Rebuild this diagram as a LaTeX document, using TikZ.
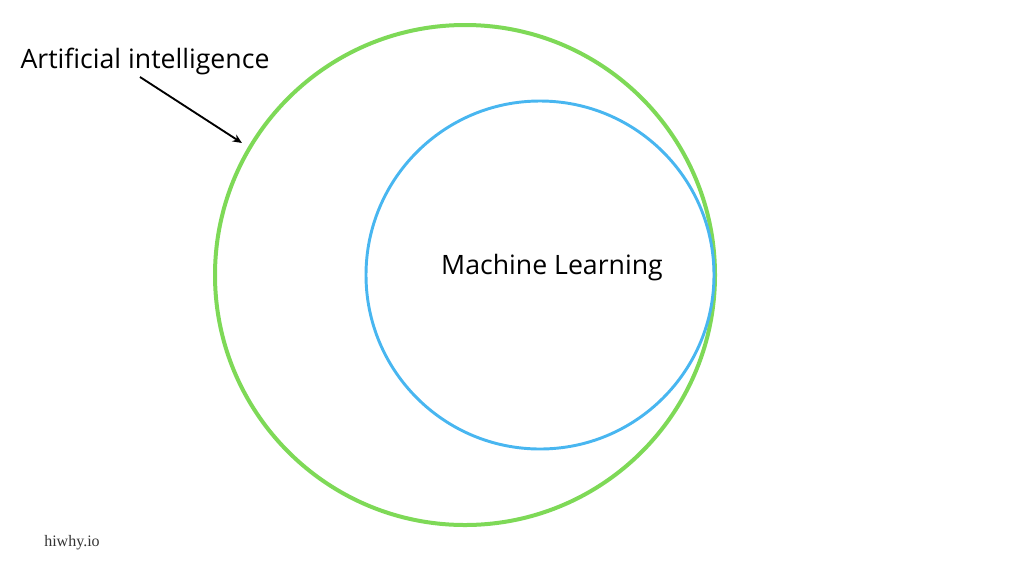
\documentclass[tikz,border=0pt]{standalone}
\usepackage{fontspec}
\setmainfont{Open Sans}
\newfontfamily\markfont{Liberation Serif}
\usetikzlibrary{arrows.meta}

\begin{document}
\begin{tikzpicture}[x=0.75pt,y=-0.75pt]
			% Define colors for visibility
			\definecolor{aigreen}{RGB}{126,217,87}
			\definecolor{mlblue}{RGB}{72,182,240}
			
			% Fix the page size
			\useasboundingbox (0,0) rectangle (1024,576);
			
			% Draw the outer circle
			\draw[aigreen, line width=3pt] (465,275) circle (250);
			
			% Draw the inner circle
			\draw[mlblue, line width=2.2pt] (540,275) circle (174);
			
			% Label the circles
			\node (ai) at (145,61) {\fontsize{20}{24}\selectfont Artificial intelligence};
			\node (ml) at (552,268) {\fontsize{20}{24}\selectfont Machine Learning};
			
			% Point at the outer circle
			\coordinate (aiedge) at (242,143);
			\draw[line width=1.4pt, -{Stealth[length=7pt,width=6pt]}] (140,77) -- (aiedge);
			
			% Watermark
			\node[text=black!80] (mark) at (72,543) {\markfont\fontsize{12}{14}\selectfont hiwhy.io};
		\end{tikzpicture}
\end{document}
